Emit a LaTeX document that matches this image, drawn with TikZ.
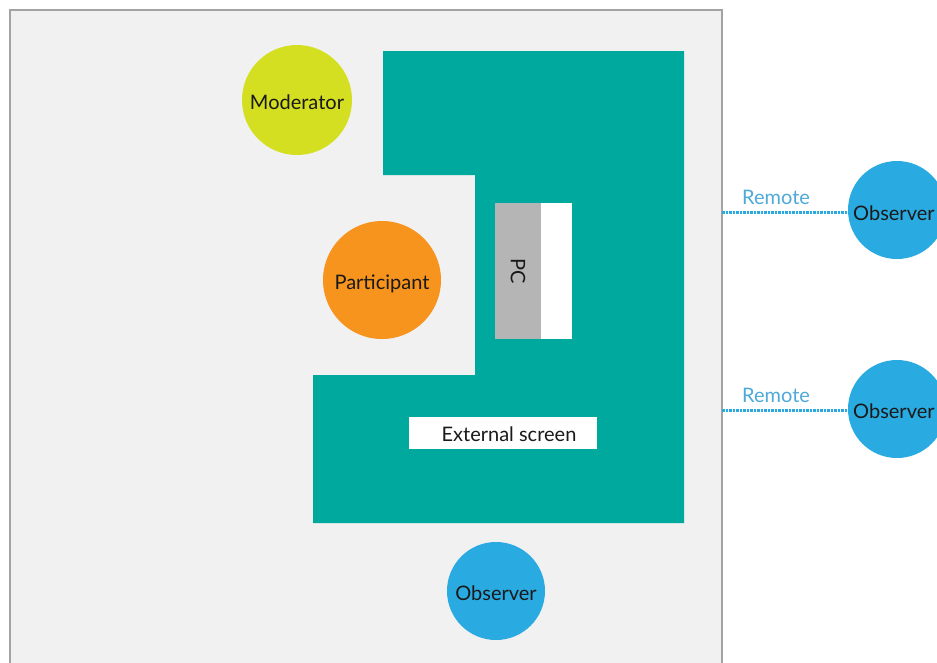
\documentclass[tikz,border=0pt]{standalone}
\usepackage{fontspec}
\setmainfont{Lato}
\definecolor{roombg}{HTML}{F1F1F1}
\definecolor{roomline}{HTML}{A3A3A3}
\definecolor{tealc}{HTML}{00A99D}
\definecolor{modc}{HTML}{D5DF21}
\definecolor{partc}{HTML}{F7941E}
\definecolor{obsc}{HTML}{29ABE2}
\definecolor{pcgray}{HTML}{B5B5B5}
\definecolor{remc}{HTML}{4FA9D9}
\tikzset{
  person/.style={circle, inner sep=0pt},
  personlabel/.style={inner sep=0pt, font=\fontsize{20}{24}\selectfont, text=black!90},
  remoteline/.style={draw=obsc, line width=3pt, dash pattern=on 2.5pt off 1pt},
  remlabel/.style={font=\fontsize{20}{24}\selectfont, text=remc, inner sep=0pt},
}
\begin{document}
\begin{tikzpicture}[x=1pt,y=-1pt]
\useasboundingbox (0,0) rectangle (937,662);
\clip (0,0) rectangle (937,662);
\fill[white] (0,0) rectangle (937,662);
% room
\draw[fill=roombg, draw=roomline, line width=1.5pt] (10,10) rectangle (722,680);
\coordinate (edgeA) at (722,212);
\coordinate (edgeB) at (722,410);
% table
\fill[tealc] (383,51) -- (684,51) -- (684,523) -- (313,523) -- (313,375) -- (475,375) -- (475,175) -- (383,175) -- cycle;
% PC
\node[fill=pcgray, minimum width=46, minimum height=136, inner sep=0pt] (pc) at (518,271) {};
\node[fill=white, minimum width=31, minimum height=136, inner sep=0pt, anchor=west] (pcscreen) at (pc.east) {};
\node[rotate=-90, font=\fontsize{20}{24}\selectfont, text=black!90] (pclabel) at (pc.center) {PC};
% external screen
\node[fill=white, minimum width=188, minimum height=32, inner sep=0pt] (ext) at (503,433) {};
\node[font=\fontsize{20}{24}\selectfont, text=black!90] (extlabel) at (509,434) {External screen};
% people
\node[person, fill=modc, minimum size=110] (mod) at (297,100) {};
\node[person, fill=partc, minimum size=118] (part) at (382,280) {};
\node[person, fill=obsc, minimum size=98] (obs) at (496,591) {};
\node[person, fill=obsc, minimum size=98] (robsA) at (897,210) {};
\node[person, fill=obsc, minimum size=98] (robsB) at (897,409) {};
\node[personlabel] (modlabel) at (297,102) {Moderator};
\node[personlabel] (partlabel) at (382,284) {Participant};
\node[personlabel] (obslabel) at (496,593) {Observer};
\node[personlabel, anchor=west] (robsAlabel) at (853,213) {Observer};
\node[personlabel, anchor=west] (robsBlabel) at (853,411) {Observer};
% remote links
\draw[remoteline] (edgeA) -- (robsA.west |- edgeA) node[remlabel, pos=0.43, above=6pt] {Remote};
\draw[remoteline] (edgeB) -- (robsB.west |- edgeB) node[remlabel, pos=0.43, above=6pt] {Remote};
\end{tikzpicture}
\end{document}
